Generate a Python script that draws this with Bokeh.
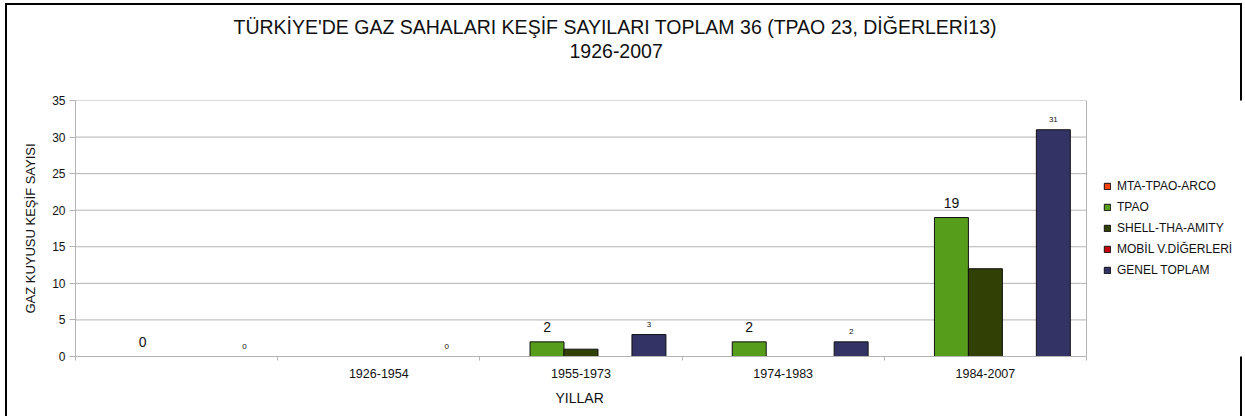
from bokeh.plotting import figure
from bokeh.models import (ColumnDataSource, LabelSet, Legend, LegendItem,
                          FixedTicker, Title, Range1d)
from bokeh.core.properties import value
from bokeh.embed import file_html
from bokeh.resources import INLINE

# ---------------- data ----------------
categories = ["", "1926-1954", "1955-1973", "1974-1983", "1984-2007"]
series_names = ["MTA-TPAO-ARCO", "TPAO", "SHELL-THA-AMITY",
                "MOBİL V.DİĞERLERİ", "GENEL TOPLAM"]
mta_tpao_arco = [None, None, None, None, None]
tpao = [0, None, 2, 2, 19]
shell_tha_amity = [None, None, 1, None, 12]
mobil_digerleri = [None, None, None, None, None]
genel_toplam = [0, 0, 3, 2, 31]
series_values = [mta_tpao_arco, tpao, shell_tha_amity, mobil_digerleri, genel_toplam]
colors = ["#ff420e", "#579d1c", "#314004", "#c5000b", "#333366"]
y_ticks = [0, 5, 10, 15, 20, 25, 30, 35]

title_line1 = "TÜRKİYE'DE GAZ SAHALARI KEŞİF SAYILARI TOPLAM 36 (TPAO 23, DİĞERLERİ13)"
title_line2 = "1926-2007"
y_title = "GAZ KUYUSU KEŞİF SAYISI"
x_title = "YILLAR"

# ---------------- layout ----------------
FONT = "Liberation Sans"
W, H = 1245, 416
LEFT, RIGHT, TOP, BOTTOM = 75, 2, 100, 59
PLOT_PX = 1011                      # width of the bar area in pixels
FRAME_PX = W - LEFT - RIGHT
N = len(categories)
X_END = N * FRAME_PX / PLOT_PX      # extra room on the right for the legend
BAR_W = 0.168
GRID = "#b3b3b3"
INK = "#111111"

p = figure(width=W, height=H, output_backend="svg", toolbar_location=None,
           x_range=Range1d(0, X_END), y_range=Range1d(0, max(y_ticks)),
           min_border_left=LEFT, min_border_right=RIGHT, min_border_top=TOP,
           min_border_bottom=BOTTOM, background_fill_color="white",
           border_fill_alpha=0)
p.styles = {"box-shadow": ("inset 5px 0 0 0 #fff, inset -3px 0 0 0 #fff, "
                           "inset 0 3px 0 0 #fff, inset 7px 0 0 0 #000, "
                           "inset -5px 0 0 0 #000, inset 0 5px 0 0 #000"),
            "background-color": "#ffffff00"}
p.outline_line_color = None

# grid lines and right edge of the plot area (limited to the bar area)
p.xgrid.grid_line_color = None
p.ygrid.grid_line_color = None
p.segment(x0=[0] * len(y_ticks), x1=[N] * len(y_ticks), y0=y_ticks, y1=y_ticks,
          line_color=GRID, line_width=1)
p.segment(x0=[N], x1=[N], y0=[0], y1=[max(y_ticks)], line_color=GRID, line_width=1)

legend_items = []
for j, (name, vals, col) in enumerate(zip(series_names, series_values, colors)):
    xs, tops = [], []
    for i, v in enumerate(vals):
        if v is not None:
            xs.append(i + 0.5 + (j - 2) * BAR_W)
            tops.append(v)
    if not xs:
        src = ColumnDataSource(dict(x=[float("nan")], top=[float("nan")]))
    else:
        src = ColumnDataSource(dict(x=xs, top=tops))
    r = p.vbar(x="x", top="top", width=BAR_W, bottom=0, source=src,
               fill_color=col, line_color=INK, line_width=1)
    legend_items.append(LegendItem(label=name, renderers=[r]))
    if name in ("TPAO", "GENEL TOPLAM"):
        big = name == "TPAO"
        lsrc = ColumnDataSource(dict(x=xs, y=tops, t=[str(v) for v in tops]))
        p.add_layout(LabelSet(x="x", y="y", text="t", source=lsrc,
                              text_align="center", text_baseline="middle",
                              y_offset=15 if big else 10,
                              text_font=value(FONT),
                              text_font_size="14px" if big else "8px",
                              text_color=INK,
                              background_fill_color="white" if big else None))

# x axis
xa = p.xaxis[0]
xa.bounds = (0, N)
xa.ticker = FixedTicker(ticks=[i + 0.5 for i in range(N)],
                        minor_ticks=list(range(N + 1)))
xa.major_label_overrides = {i + 0.5: c for i, c in enumerate(categories)}
xa.major_tick_out = 0
xa.major_tick_in = 0
xa.minor_tick_out = 4
xa.minor_tick_in = 0
xa.minor_tick_line_color = GRID
xa.axis_line_color = GRID
xa.major_label_text_font = FONT
xa.major_label_text_font_size = "12.5px"
xa.major_label_text_color = INK
xa.major_label_standoff = 8

# y axis
ya = p.yaxis[0]
ya.ticker = FixedTicker(ticks=y_ticks)
ya.major_tick_out = 6
ya.major_tick_in = 0
ya.minor_tick_out = 0
ya.minor_tick_in = 0
ya.major_tick_line_color = GRID
ya.axis_line_color = GRID
ya.major_label_text_font = FONT
ya.major_label_text_font_size = "12px"
ya.major_label_text_color = INK
ya.major_label_standoff = 4
ya.axis_label = y_title
ya.axis_label_text_font = FONT
ya.axis_label_text_font_style = "normal"
ya.axis_label_text_font_size = "13px"
ya.axis_label_text_color = INK
ya.axis_label_standoff = 11

# x axis title (below the category labels)
p.add_layout(Title(text=x_title, align="left", offset=480, standoff=18,
                   vertical_align="top", text_font=FONT,
                   text_font_style="normal", text_font_size="14px",
                   text_color=INK), "below")

# chart titles (spacer nearest the plot, then the two title lines)
p.add_layout(Title(text="\u00a0", align="left", standoff=36,
                   text_font_size="1px"), "above")
p.add_layout(Title(text=title_line2, align="left", offset=494, standoff=8,
                   text_font=FONT, text_font_style="normal",
                   text_font_size="19.5px", text_color=INK), "above")
p.add_layout(Title(text=title_line1, align="left", offset=158, standoff=0,
                   text_font=FONT, text_font_style="normal",
                   text_font_size="19.5px", text_color=INK), "above")

legend = Legend(items=legend_items, location=(1023, 71),
                label_text_font=FONT, label_text_font_size="12px",
                label_text_color=INK, glyph_width=8, glyph_height=8,
                label_height=20, spacing=1, margin=0, padding=5,
                label_standoff=6, border_line_alpha=0,
                background_fill_alpha=0)
p.add_layout(legend)

open("out.html", "w").write(file_html(p, INLINE))
